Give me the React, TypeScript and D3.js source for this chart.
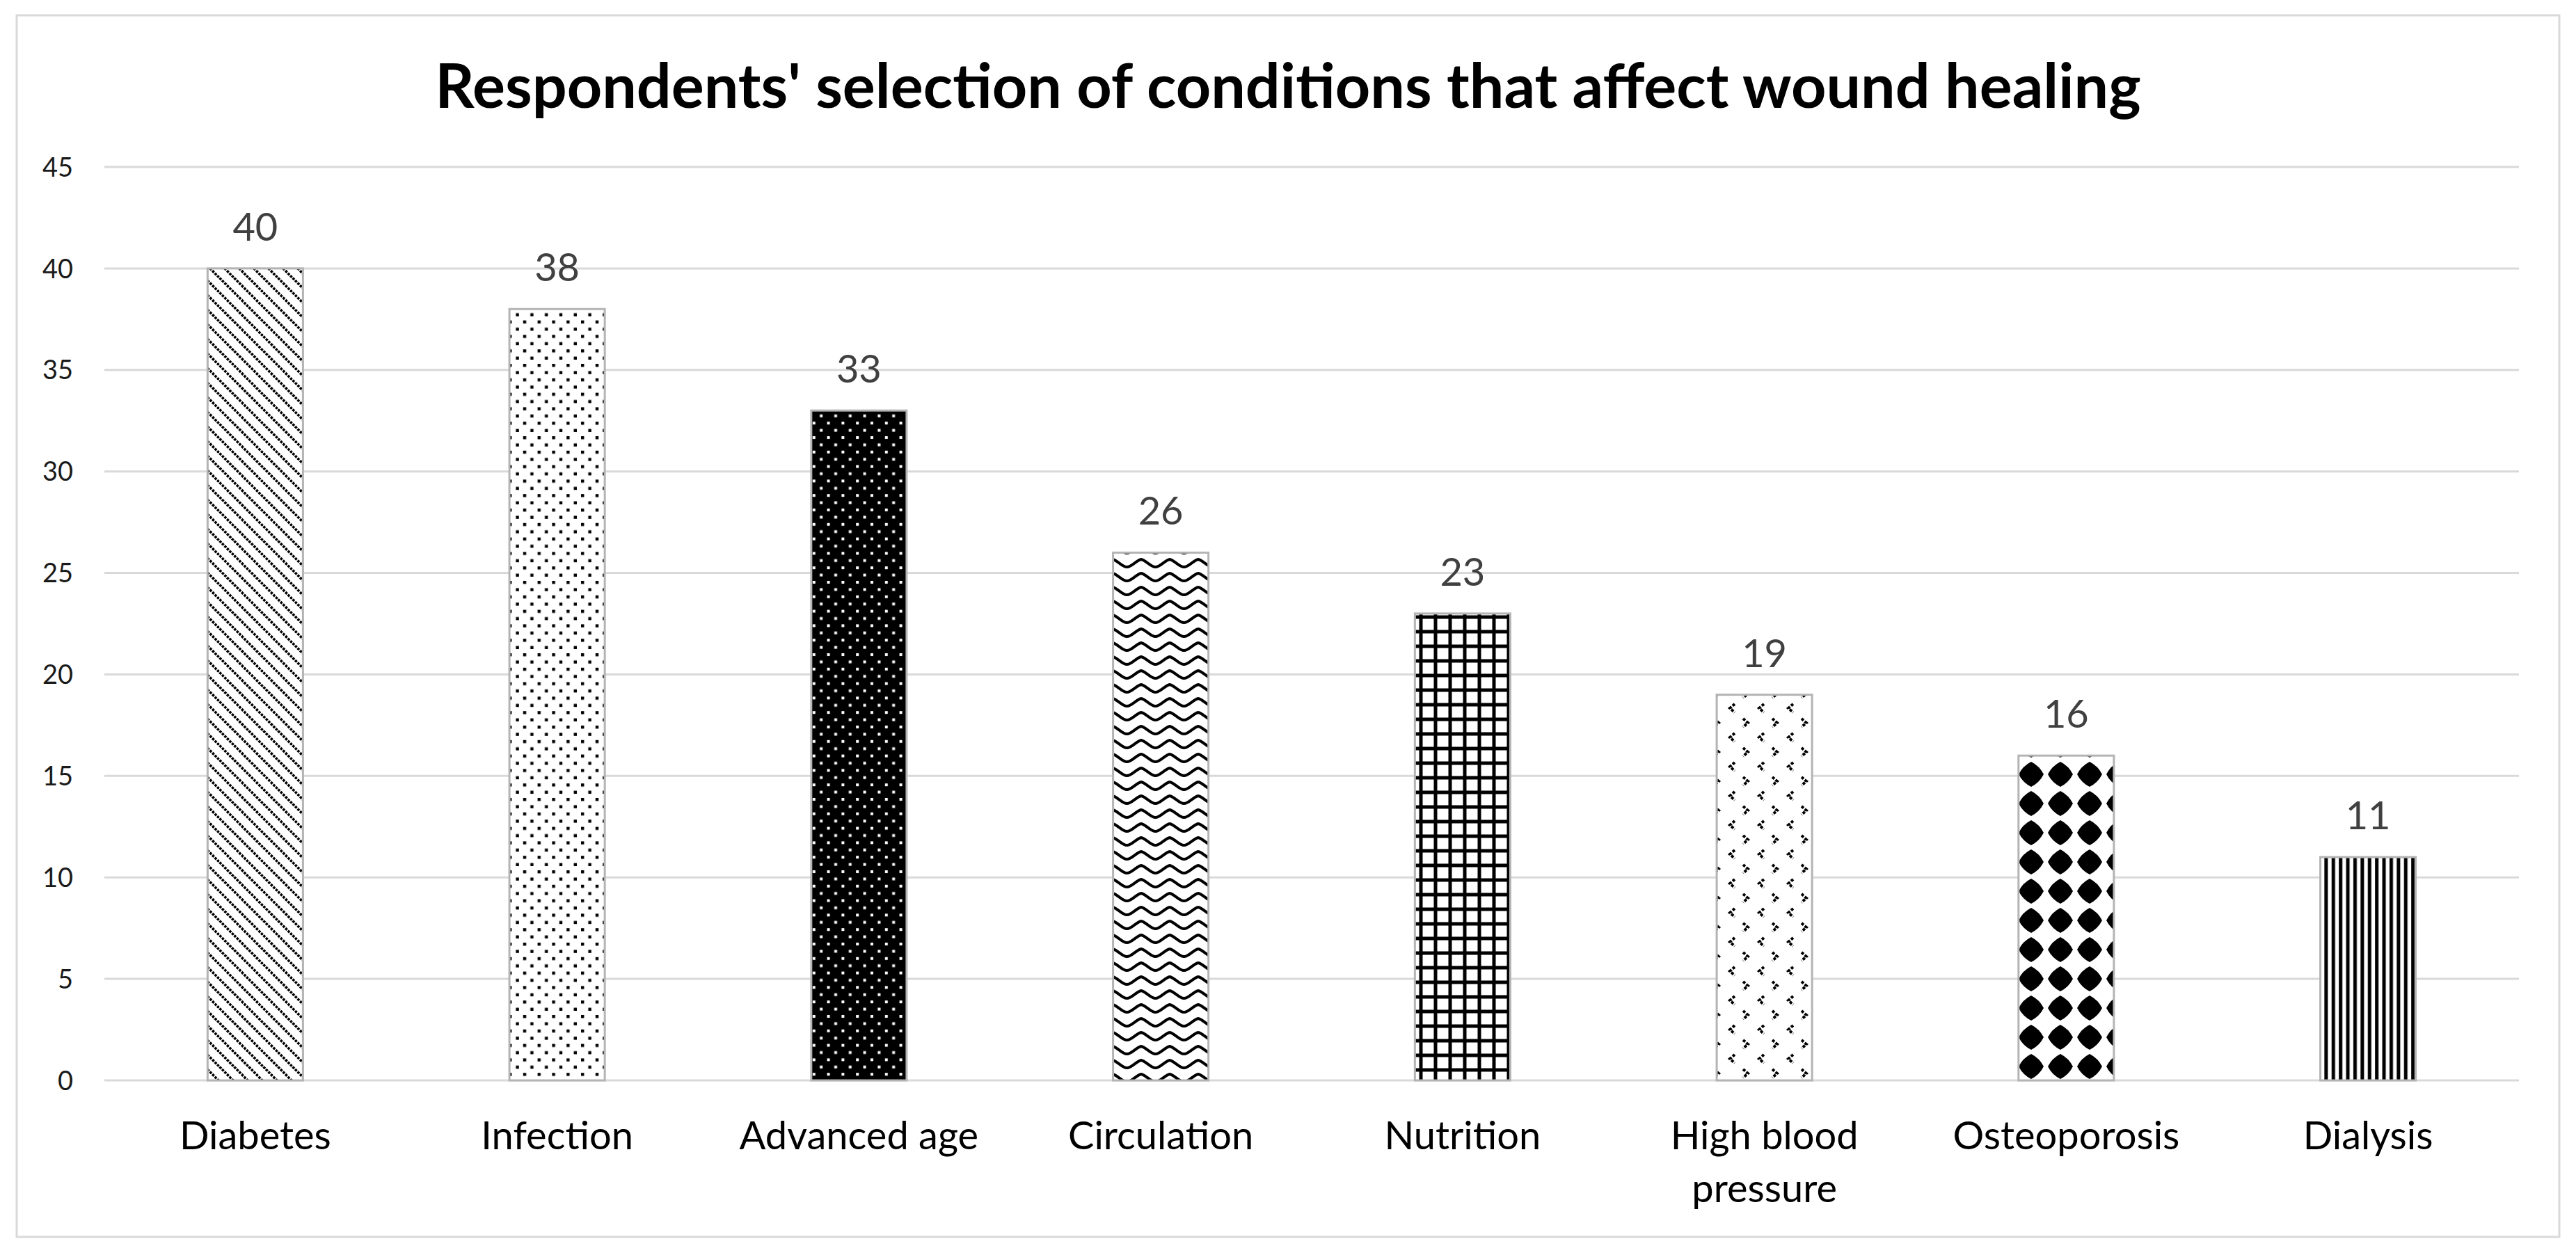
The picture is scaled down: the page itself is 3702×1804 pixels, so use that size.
import { useEffect, useRef } from 'react'
import * as d3 from 'd3'

const categories = ['Diabetes', 'Infection', 'Advanced age', 'Circulation', 'Nutrition', 'High blood pressure', 'Osteoporosis', 'Dialysis']
const respondents = [40, 38, 33, 26, 23, 19, 16, 11]
const yTicks = [0, 5, 10, 15, 20, 25, 30, 35, 40, 45]
const titleText = "Respondents' selection of conditions that affect wound healing"

const W = 3702
const H = 1804
const FONT = 'Lato, "Noto Sans", sans-serif'

type Defs = d3.Selection<SVGDefsElement, unknown, null, undefined>

// one fill per bar, in category order
const patternMakers: ((defs: Defs, id: string) => void)[] = [
  // dotted downward diagonal
  (defs, id) => {
    const p = defs.append('pattern').attr('id', id).attr('patternUnits', 'userSpaceOnUse').attr('width', 21).attr('height', 21)
    p.append('rect').attr('width', 21).attr('height', 21).attr('fill', '#fff')
    p.append('path').attr('d', 'M-3,-3 L24,24 M-3,18 L3,24 M18,-3 L24,3')
      .attr('stroke', '#000').attr('stroke-width', 3.6).attr('stroke-dasharray', '3.5 1.5')
  },
  // small dots
  (defs, id) => {
    const p = defs.append('pattern').attr('id', id).attr('patternUnits', 'userSpaceOnUse').attr('width', 20.8).attr('height', 20.8)
    p.append('rect').attr('width', 20.8).attr('height', 20.8).attr('fill', '#fff')
    p.append('rect').attr('x', 3).attr('y', 3).attr('width', 4.4).attr('height', 4.4).attr('fill', '#000')
    p.append('rect').attr('x', 13.4).attr('y', 13.4).attr('width', 4.4).attr('height', 4.4).attr('fill', '#000')
  },
  // black with white dots
  (defs, id) => {
    const p = defs.append('pattern').attr('id', id).attr('patternUnits', 'userSpaceOnUse').attr('width', 20.8).attr('height', 20.8)
    p.append('rect').attr('width', 20.8).attr('height', 20.8).attr('fill', '#000')
    p.append('rect').attr('x', 3).attr('y', 3).attr('width', 4).attr('height', 4).attr('fill', '#fff')
    p.append('rect').attr('x', 13.4).attr('y', 13.4).attr('width', 4).attr('height', 4).attr('fill', '#fff')
  },
  // wave
  (defs, id) => {
    const p = defs.append('pattern').attr('id', id).attr('patternUnits', 'userSpaceOnUse').attr('width', 41).attr('height', 20)
    p.append('rect').attr('width', 41).attr('height', 20).attr('fill', '#fff')
    const wave = 'M-1,4 C6,4 13,15 20.5,15 C28,15 35,4 42,4'
    ;[0, 20, -20].forEach(dy => {
      p.append('path').attr('d', wave).attr('transform', `translate(0,${dy})`)
        .attr('fill', 'none').attr('stroke', '#000').attr('stroke-width', 4)
    })
  },
  // grid
  (defs, id) => {
    const p = defs.append('pattern').attr('id', id).attr('patternUnits', 'userSpaceOnUse').attr('width', 21).attr('height', 21)
    p.append('rect').attr('width', 21).attr('height', 21).attr('fill', '#fff')
    p.append('path').attr('d', 'M5,0 V21 M0,5 H21').attr('stroke', '#000').attr('stroke-width', 5)
  },
  // chevrons
  (defs, id) => {
    const p = defs.append('pattern').attr('id', id).attr('patternUnits', 'userSpaceOnUse').attr('width', 42).attr('height', 42)
    p.append('rect').attr('width', 42).attr('height', 42).attr('fill', '#fff')
    p.append('path').attr('d', 'M15,4 L8,10 L15,16 M27,25 L34,31 L27,37')
      .attr('fill', 'none').attr('stroke', '#000').attr('stroke-width', 4).attr('stroke-dasharray', '4 2')
  },
  // diamonds
  (defs, id) => {
    const p = defs.append('pattern').attr('id', id).attr('patternUnits', 'userSpaceOnUse').attr('width', 42).attr('height', 42)
    p.append('rect').attr('width', 42).attr('height', 42).attr('fill', '#fff')
    p.append('path').attr('d', 'M21,3 Q33,9 39,21 Q33,33 21,39 Q9,33 3,21 Q9,9 21,3 Z').attr('fill', '#000')
  },
  // vertical stripes
  (defs, id) => {
    const p = defs.append('pattern').attr('id', id).attr('patternUnits', 'userSpaceOnUse').attr('width', 10.4).attr('height', 10)
    p.append('rect').attr('width', 10.4).attr('height', 10).attr('fill', '#fff')
    p.append('rect').attr('x', 2).attr('width', 5).attr('height', 10).attr('fill', '#000')
  }
]

export default function App() {
  const svgRef = useRef<SVGSVGElement>(null)

  useEffect(() => {
    document.body.style.margin = '0'
    if (!svgRef.current) return
    const svg = d3.select(svgRef.current)
    svg.selectAll('*').remove()

    const plot = { left: 150, right: 3620, top: 240, bottom: 1553 }

    const x = d3.scaleBand<string>()
      .domain(categories)
      .range([plot.left, plot.right])
      .paddingInner(0.684)
      .paddingOuter(0.342)

    const y = d3.scaleLinear().domain([0, 45]).range([plot.bottom, plot.top])

    const defs = svg.append('defs')
    patternMakers.forEach((make, i) => make(defs, `pat-${i}`))

    // background + outer frame
    svg.append('rect').attr('width', W).attr('height', H).attr('fill', '#fff')
    svg.append('rect')
      .attr('x', 24).attr('y', 22).attr('width', 3654).attr('height', 1756)
      .attr('fill', '#fff').attr('stroke', '#d9d9d9').attr('stroke-width', 3)

    // title
    svg.append('text')
      .attr('x', W / 2).attr('y', 155)
      .attr('text-anchor', 'middle')
      .style('font-family', FONT).style('font-weight', 700).style('font-size', '88px')
      .attr('fill', '#000')
      .text(titleText)

    // gridlines
    svg.append('g').selectAll('line')
      .data(yTicks)
      .join('line')
      .attr('x1', plot.left).attr('x2', plot.right)
      .attr('y1', d => y(d)).attr('y2', d => y(d))
      .attr('stroke', '#d9d9d9').attr('stroke-width', 3)

    // y tick labels
    svg.append('g').selectAll('text')
      .data(yTicks)
      .join('text')
      .attr('x', 105).attr('y', d => y(d))
      .attr('dy', '0.36em')
      .attr('text-anchor', 'end')
      .style('font-family', FONT).style('font-size', '38px')
      .attr('fill', '#1a1a1a')
      .text(d => d)

    // bars
    svg.append('g').selectAll('rect')
      .data(respondents)
      .join('rect')
      .attr('x', (d, i) => x(categories[i])!)
      .attr('width', x.bandwidth())
      .attr('y', d => y(d))
      .attr('height', d => y(0) - y(d))
      .attr('fill', (d, i) => `url(#pat-${i})`)
      .attr('stroke', '#b4b4b4').attr('stroke-width', 3)

    // value labels
    svg.append('g').selectAll('text')
      .data(respondents)
      .join('text')
      .attr('x', (d, i) => x(categories[i])! + x.bandwidth() / 2)
      .attr('y', d => y(d) - 40)
      .attr('text-anchor', 'middle')
      .style('font-family', FONT).style('font-size', '56px')
      .attr('fill', '#404040')
      .text(d => d)

    // category labels, wrapped like the original
    const wrap = (s: string) => (s === 'High blood pressure' ? ['High blood', 'pressure'] : [s])
    const labels = svg.append('g').selectAll('text')
      .data(categories)
      .join('text')
      .attr('x', d => x(d)! + x.bandwidth() / 2)
      .attr('y', 1652)
      .attr('text-anchor', 'middle')
      .style('font-family', FONT).style('font-size', '56px')
      .attr('fill', '#000')
    labels.each(function (d) {
      const t = d3.select(this)
      wrap(d).forEach((line, k) => {
        t.append('tspan')
          .attr('x', x(d)! + x.bandwidth() / 2)
          .attr('dy', k === 0 ? 0 : 76)
          .text(line)
      })
    })
  }, [])

  return <svg ref={svgRef} width={W} height={H} style={{ display: 'block' }} />
}
